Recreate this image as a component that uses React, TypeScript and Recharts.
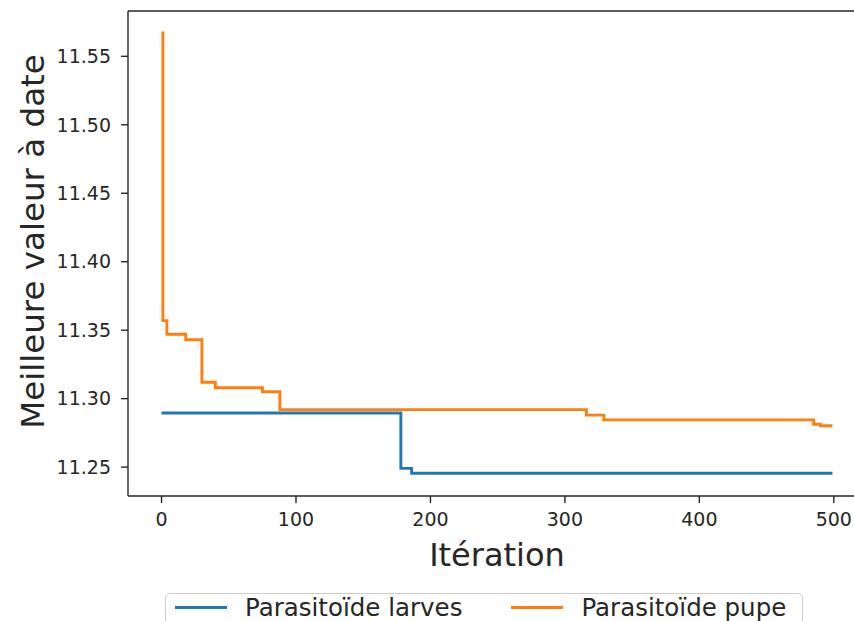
import { LineChart, Line, XAxis, YAxis, ReferenceLine } from "recharts";

// step change points: [iteration] -> best value so far
const larvesIter = [0, 178, 186, 499];
const larvesVal = [11.2895, 11.2491, 11.2455, 11.2455];

const pupeIter = [0, 1, 4, 18, 30, 40, 75, 88, 316, 329, 485, 490, 499];
const pupeVal = [11.567, 11.357, 11.347, 11.343, 11.312, 11.308, 11.305, 11.292, 11.288, 11.2845, 11.2813, 11.2802, 11.2802];

const xTicks = [0, 100, 200, 300, 400, 500];
const yTicks = [11.25, 11.3, 11.35, 11.4, 11.45, 11.5, 11.55];

const series = [
  { name: "Parasitoïde larves", color: "#1f77b4", data: larvesIter.map((it, i) => ({ it, v: larvesVal[i] })) },
  { name: "Parasitoïde pupe", color: "#ff7f0e", data: pupeIter.map((it, i) => ({ it, v: pupeVal[i] })) },
];

const FONT = "'DejaVu Sans', sans-serif";
const INK = "#262626";
const X_DOMAIN: [number, number] = [-24.95, 523.95];
const Y_DOMAIN: [number, number] = [11.2289, 11.5831];

const YLabel = ({ viewBox }: any) => {
  const cy = viewBox.y + viewBox.height / 2 - 12;
  const cx = viewBox.x + 44;
  return (
    <text
      transform={`translate(${cx}, ${cy}) rotate(-90)`}
      textAnchor="middle"
      fontFamily={FONT}
      fontSize={32.5}
      fill={INK}
    >
      Meilleure valeur à date
    </text>
  );
};

export default function App() {
  return (
    <div
      style={{
        position: "absolute",
        left: 0,
        top: 0,
        width: 854,
        height: 621,
        overflow: "hidden",
        background: "#fff",
      }}
    >
      <LineChart width={900} height={640} margin={{ top: 11, right: 34, bottom: 74, left: 0 }}>
        <XAxis
          dataKey="it"
          type="number"
          domain={X_DOMAIN}
          allowDataOverflow
          ticks={xTicks}
          tickSize={7}
          tickMargin={10}
          height={70}
          stroke={INK}
          strokeWidth={1.4}
          tick={{ fill: INK, fontSize: 19, fontFamily: FONT }}
          label={{ value: "Itération", position: "insideBottom", offset: 0, fill: INK, fontSize: 32, fontFamily: FONT }}
        />
        <YAxis
          type="number"
          domain={Y_DOMAIN}
          allowDataOverflow
          ticks={yTicks}
          tickFormatter={(v: number) => v.toFixed(2)}
          tickSize={7}
          tickMargin={10}
          width={128}
          stroke={INK}
          strokeWidth={1.4}
          tick={{ fill: INK, fontSize: 19, fontFamily: FONT }}
          label={<YLabel />}
        />
        {/* top and right spines */}
        <ReferenceLine y={Y_DOMAIN[1]} stroke={INK} strokeWidth={1.4} />
        <ReferenceLine x={X_DOMAIN[1]} stroke={INK} strokeWidth={1.4} />
        {series.map((s) => (
          <Line
            key={s.name}
            data={s.data}
            dataKey="v"
            name={s.name}
            type="stepAfter"
            stroke={s.color}
            strokeWidth={2.9}
            dot={false}
            activeDot={false}
            isAnimationActive={false}
          />
        ))}
      </LineChart>
      <div
        style={{
          position: "absolute",
          left: 165,
          top: 593,
          width: 638,
          height: 60,
          border: "1px solid #cccccc",
          borderRadius: 5,
          background: "#fff",
          display: "flex",
          alignItems: "flex-start",
          paddingLeft: 9,
          paddingTop: 0,
          boxSizing: "border-box",
          fontFamily: FONT,
          fontSize: 24.5,
          color: INK,
        }}
      >
        {series.map((s, i) => (
          <div key={s.name} style={{ display: "flex", alignItems: "center", marginLeft: i === 0 ? 0 : 49 }}>
            <span style={{ display: "inline-block", width: 52, height: 3, background: s.color, marginRight: 18, marginTop: -2 }} />
            <span style={{ lineHeight: "28px", whiteSpace: "nowrap" }}>{s.name}</span>
          </div>
        ))}
      </div>
    </div>
  );
}
